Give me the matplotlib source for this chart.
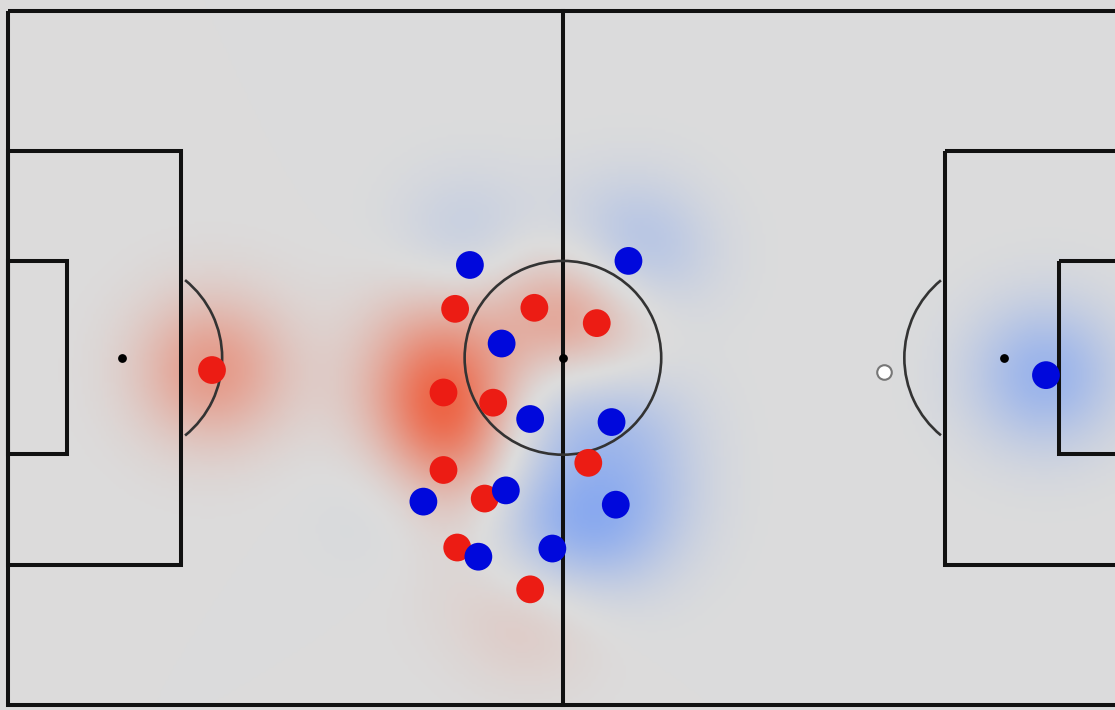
import numpy as np
import matplotlib
matplotlib.use("Agg")
import matplotlib.pyplot as plt
from matplotlib.patches import Rectangle, Arc
from matplotlib.colors import LinearSegmentedColormap

# Player positions in metres (x along 105 m pitch, y from top along 68 m)
red_x = [19.3, 42.3, 49.8, 55.7, 41.2, 45.9, 41.2, 45.1, 54.9, 42.5, 49.4]
red_y = [35.2, 29.2, 29.1, 30.6, 37.4, 38.4, 45.0, 47.8, 44.3, 52.6, 56.7]
blue_x = [43.7, 58.7, 46.7, 49.4, 57.1, 47.1, 39.3, 57.5, 44.5, 51.5, 98.2]
blue_y = [24.9, 24.5, 32.6, 40.0, 40.3, 47.0, 48.1, 48.4, 53.5, 52.7, 35.7]
ball_x = [82.9]
ball_y = [35.4]

L, W = 105.0, 68.0
px_per_m_x = 10.57
px_per_m_y = 10.2

fig = plt.figure(figsize=(11.15, 7.10), dpi=100)
ax = fig.add_axes([0, 0, 1, 1])
ax.set_xlim(-8 / px_per_m_x, 1107 / px_per_m_x)
ax.set_ylim(699 / px_per_m_y, -11 / px_per_m_y)
ax.axis("off")
fig.patch.set_facecolor("#dcdcdc")
ax.set_facecolor("#dcdcdc")

# control field from player positions (kernel sum)
gx = np.linspace(-1, 106, 430)
gy = np.linspace(-1.5, 69, 290)
XX, YY = np.meshgrid(gx, gy)
sig = 5.6
field = np.zeros_like(XX)
for x, y in zip(red_x, red_y):
    field += np.exp(-((XX - x) ** 2 + (YY - y) ** 2) / (2 * sig ** 2))
for x, y in zip(blue_x, blue_y):
    field -= np.exp(-((XX - x) ** 2 + (YY - y) ** 2) / (2 * sig ** 2))
g = np.clip(field * 0.62, -1, 1)
field = np.sign(g) * np.abs(g) ** 1.25

cmap = LinearSegmentedColormap.from_list(
    "ctrl", [(0.0, (0.40, 0.58, 0.97)), (0.5, (0.863, 0.863, 0.863)), (1.0, (0.93, 0.40, 0.28))]
)
ax.imshow(field, extent=(gx[0], gx[-1], gy[-1], gy[0]), cmap=cmap, vmin=-1, vmax=1,
          interpolation="bilinear", zorder=0, aspect="auto")

lw = 2.9
lc = "#111111"
thin = 1.9
tc = "#333333"
# outline and halfway line
ax.add_patch(Rectangle((0, 0), L, W, fill=False, lw=lw, ec=lc, zorder=2))
ax.plot([L / 2, L / 2], [0, W], color=lc, lw=lw, zorder=2)
# penalty boxes
ax.add_patch(Rectangle((0, W / 2 - 20.3), 16.4, 40.6, fill=False, lw=lw, ec=lc, zorder=2))
ax.add_patch(Rectangle((L - 16.4, W / 2 - 20.3), 16.4, 40.6, fill=False, lw=lw, ec=lc, zorder=2))
# goal areas
ax.add_patch(Rectangle((0, W / 2 - 9.45), 5.6, 18.9, fill=False, lw=lw, ec=lc, zorder=2))
ax.add_patch(Rectangle((L - 5.6, W / 2 - 9.45), 5.6, 18.9, fill=False, lw=lw, ec=lc, zorder=2))
# centre circle & arcs
ax.add_patch(Arc((L / 2, W / 2), 2 * 9.3, 2 * 9.5, lw=thin, ec=tc, zorder=2))
ax.add_patch(Arc((10.8, W / 2), 2 * 9.46, 2 * 9.8, theta1=-52, theta2=52, lw=thin, ec=tc, zorder=2))
ax.add_patch(Arc((L - 10.8, W / 2), 2 * 9.4, 2 * 9.8, theta1=128, theta2=232, lw=thin, ec=tc, zorder=2))
# spots
ax.scatter([L / 2, 10.8, L - 10.8], [W / 2, W / 2, W / 2], s=40, c="black", zorder=3, lw=0)

# players
ax.scatter(red_x, red_y, s=400, c="#ec1c14", edgecolors="none", zorder=4)
ax.scatter(blue_x, blue_y, s=400, c="#0008dc", edgecolors="none", zorder=4)
# ball
ax.scatter(ball_x, ball_y, s=110, c="white", edgecolors="#777777", linewidths=1.5, zorder=5)

fig.savefig("out.png", dpi=100, facecolor=fig.get_facecolor())
